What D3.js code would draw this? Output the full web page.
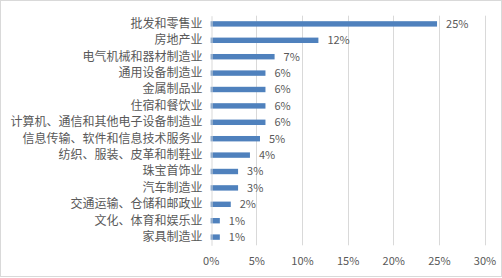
<!DOCTYPE html>
<html><head><meta charset="utf-8">
<script src="https://cdn.jsdelivr.net/npm/d3@7"></script>
<style>body{margin:0;background:#fff}svg{display:block}</style>
</head><body>
<svg id="c" width="502" height="278"></svg>
<script>
const categories = ["批发和零售业","房地产业","电气机械和器材制造业","通用设备制造业","金属制品业","住宿和餐饮业","计算机、通信和其他电子设备制造业","信息传输、软件和信息技术服务业","纺织、服装、皮革和制鞋业","珠宝首饰业","汽车制造业","交通运输、仓储和邮政业","文化、体育和娱乐业","家具制造业"];
const values = [0.248, 0.118, 0.070, 0.060, 0.060, 0.060, 0.060, 0.054, 0.043, 0.030, 0.030, 0.022, 0.010, 0.010];
const labels = ["25%","12%","7%","6%","6%","6%","6%","5%","4%","3%","3%","2%","1%","1%"];
const ticks = [0,0.05,0.10,0.15,0.20,0.25,0.30];

const svg = d3.select("#c");
const m = {l:210.7, r:484.5, t:15.7, b:245.3};
const font = "'Noto Sans CJK SC','Microsoft YaHei',sans-serif";
const txt = "#595959";

svg.append("rect").attr("x",0.5).attr("y",0.5).attr("width",501).attr("height",276)
  .attr("fill","#fff").attr("stroke","#d9d9d9");

const x = d3.scaleLinear().domain([0,0.30]).range([m.l,m.r]);
const y = d3.scaleBand().domain(categories).range([m.t,m.b]).paddingInner(0.67).paddingOuter(0.335);

// gridlines
svg.append("g").selectAll("line").data(ticks.slice(1)).join("line")
  .attr("x1",d=>Math.round(x(d))+0.5).attr("x2",d=>Math.round(x(d))+0.5)
  .attr("y1",m.t).attr("y2",m.b).attr("stroke","#d9d9d9").attr("stroke-width",1);

// x axis labels
const xa = d3.axisBottom(x).tickValues(ticks).tickFormat(d3.format(".0%")).tickSize(0).tickPadding(0);
const gx = svg.append("g").attr("transform",`translate(0,${m.b})`).call(xa);
gx.select(".domain").remove();
gx.selectAll("text").attr("dy",0).attr("y",19.5).attr("fill",txt)
  .style("font-family",font).style("font-size","11px");

// bars
svg.append("g").selectAll("rect").data(values).join("rect")
  .attr("x",x(0)).attr("y",(d,i)=>y(categories[i]))
  .attr("width",d=>x(d)-x(0)).attr("height",y.bandwidth())
  .attr("fill","#4f81bd");

// y axis
const ya = d3.axisLeft(y).tickSize(0).tickPadding(9);
const gy = svg.append("g").attr("transform",`translate(${Math.round(m.l)+0.5},0)`).call(ya);
gy.select(".domain").attr("stroke","#d9d9d9");
gy.selectAll("text").attr("fill",txt).style("font-family",font).style("font-size","12px");

// data labels
svg.append("g").selectAll("text").data(values).join("text")
  .attr("x",d=>x(d)+9).attr("y",(d,i)=>y(categories[i])+y.bandwidth()/2)
  .attr("dy","0.35em").attr("fill",txt)
  .style("font-family",font).style("font-size","11px")
  .text((d,i)=>labels[i]);
</script>
</body></html>
